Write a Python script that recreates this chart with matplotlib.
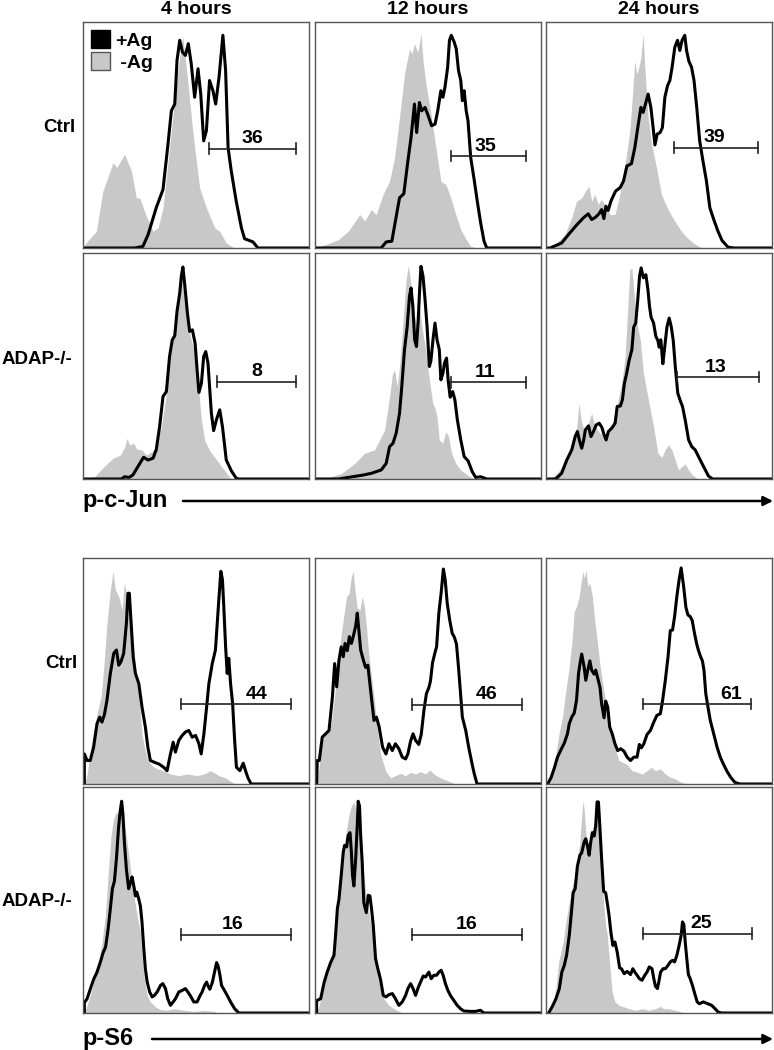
import matplotlib
matplotlib.use("Agg")
import matplotlib.pyplot as plt
from matplotlib.patches import Patch

plt.rcParams['font.family'] = ['Liberation Sans', 'DejaVu Sans']
plt.rcParams['font.weight'] = 'bold'

# x, y read off the picture as % of panel width / height
# gray = -Ag (filled), black = +Ag (line)

# ---- p-c-Jun, Ctrl ----
jun_ctrl_4h_neg = [(0,0),(0.7,1.5),(5.9,7.4),(8.8,25.2),(13.3,37.8),(15.0,35.6),(18.4,41.5),(21.4,34.1),
    (23.6,22.2),(25.1,22.2),(28.0,14.1),(31.0,7.4),(33.2,8.9),(35.4,17.8),(38.3,44.4),(41.3,72.6),
    (44.0,94.1),(45.7,80.0),(48.7,50.4),(51.6,26.7),(54.6,17.8),(58.3,8.9),(60.5,7.4),(63.4,2.2),(66.4,0.3),(68,0)]
jun_ctrl_4h_pos = [(0,0),(22.9,0),(26.5,0.7),(28.8,5.9),(32.4,17.8),(35.4,25.9),(37.6,45.9),(39.1,60.7),
    (40.6,63.7),(41.6,83.0),(42.8,91.9),(44.0,86.7),(45.3,85.2),(46.6,90.4),(47.9,81.5),(49.4,66.7),
    (50.9,79.3),(52.1,68.1),(53.4,47.4),(54.6,51.9),(56.0,74.1),(57.5,69.6),(58.7,63.7),(60.2,75.6),
    (61.9,94.1),(63.1,78.5),(64.2,44.4),(65.6,34.1),(67.8,20.7),(70.1,8.9),(71.5,4.1),(75.2,2.7),(77.4,0),(100,0)]
jun_ctrl_12h_neg = [(0,0),(6.6,2.2),(10.3,3.7),(14.7,7.4),(19.8,14.8),(22.0,11.9),(24.9,17.0),(27.1,14.8),
    (30.1,23.7),(33.0,29.6),(35.2,40.0),(38.1,63.7),(39.6,77.0),(41.8,88.1),(42.8,85.9),(44.0,90.4),
    (45.5,86.7),(46.9,94.8),(47.8,83.0),(49.1,72.6),(51.3,59.3),(53.5,44.4),(55.7,29.6),(57.9,28.1),
    (60.1,22.2),(62.3,14.8),(64.5,8.1),(66.7,4.1),(68.9,0.7),(71.8,0)]
jun_ctrl_12h_pos = [(0,0),(29.3,0),(31.5,2.7),(34.0,3.0),(37.4,22.2),(39.3,24.0),(41.1,38.5),(42.5,48.9),
    (44.0,63.7),(45.0,51.1),(46.2,64.4),(47.2,60.7),(48.7,62.2),(50.1,58.5),(51.6,54.1),(53.1,54.8),
    (54.3,60.7),(55.7,69.6),(56.6,66.7),(57.5,71.1),(58.7,80.0),(59.5,91.9),(60.3,94.1),(61.6,91.1),
    (62.5,88.1),(63.5,78.5),(64.5,74.1),(65.2,65.2),(66.0,69.6),(66.9,60.7),(67.7,56.3),(68.9,40.0),
    (70.4,30.4),(71.8,20.7),(73.3,11.1),(74.8,3.0),(76.0,0),(100,0)]
jun_ctrl_24h_neg = [(0,0),(4.0,1.5),(8.4,5.9),(11.3,13.3),(13.5,20.7),(15.8,22.2),(17.5,25.2),(19.0,27.4),
    (20.2,20.7),(21.6,23.7),(23.1,19.3),(24.6,21.5),(26.4,18.5),(28.3,14.8),(30.5,14.8),(32.0,20.7),
    (33.4,27.4),(35.2,38.5),(37.1,51.9),(38.6,72.6),(39.3,83.0),(40.1,77.0),(41.1,80.0),(42.0,84.4),
    (43.0,94.8),(43.7,80.0),(45.2,57.8),(46.7,45.9),(48.9,35.6),(51.1,23.7),(54.0,17.0),(57.0,11.9),
    (59.9,7.4),(62.9,4.1),(65.8,1.8),(68.8,0)]
jun_ctrl_24h_pos = [(0,0),(1.8,0),(6.9,2.2),(9.9,5.9),(13.5,10.1),(16.5,13.3),(18.7,15.1),(20.2,12.6),
    (21.9,13.6),(23.4,15.1),(24.6,17.0),(25.6,13.0),(26.5,18.5),(27.5,16.6),(28.7,20.7),(30.8,25.2),
    (32.8,26.7),(34.3,29.6),(35.8,36.3),(37.8,37.3),(39.3,44.4),(40.8,54.5),(42.0,62.2),(43.0,60.0),
    (44.2,64.4),(45.2,68.1),(46.4,62.2),(47.4,53.3),(48.2,45.6),(49.2,50.4),(50.5,51.1),(51.5,53.3),
    (52.6,66.7),(53.8,71.9),(54.8,74.1),(55.8,80.0),(57.0,88.9),(58.2,91.9),(59.2,87.4),(60.2,91.9),
    (61.4,94.1),(62.2,87.4),(63.2,82.7),(64.4,80.0),(65.5,74.1),(66.7,62.2),(68.0,47.4),(69.5,38.2),
    (71.0,29.6),(72.5,17.8),(74.4,12.1),(76.1,7.4),(77.9,3.3),(80.6,0.3),(83.5,0),(100,0)]

# ---- p-c-Jun, ADAP-/- ----
jun_adap_4h_neg = [(0,0),(5.2,1.0),(8.8,5.0),(13.3,9.2),(16.5,10.6),(18.4,14.0),(19.5,18.0),(20.6,15.1),
    (22.4,15.8),(23.9,13.1),(26.0,12.9),(28.0,10.6),(30.4,12.1),(32.4,14.6),(34.7,23.2),(36.9,38.0),
    (39.1,57.2),(41.3,73.4),(42.8,86.7),(44.0,93.4),(45.7,79.3),(47.2,64.6),(49.0,57.2),(50.9,42.4),
    (52.4,26.1),(53.8,17.3),(56.0,12.6),(58.3,9.6),(60.5,6.6),(62.7,3.7),(64.9,0.7),(66.4,0)]
jun_adap_4h_pos = [(0,0),(17.0,0),(18.4,1.0),(20.4,0.7),(22.1,1.8),(24.3,5.5),(26.8,9.6),(28.8,8.4),
    (31.0,9.2),(32.4,12.9),(33.9,23.2),(35.4,36.5),(36.9,38.7),(38.3,54.2),(39.5,61.6),(40.6,63.4),
    (41.6,74.2),(42.8,82.3),(43.5,89.7),(44.2,93.8),(45.1,85.2),(46.2,73.4),(47.2,65.3),(48.4,66.0),
    (49.6,60.1),(50.6,46.8),(51.3,38.3),(52.4,42.4),(53.4,54.2),(54.3,56.4),(55.3,51.3),(56.8,29.1),
    (57.8,21.4),(59.0,26.1),(60.5,30.6),(61.7,23.2),(63.4,8.4),(65.6,3.7),(67.8,0.3),(69.0,0),(100,0)]
jun_adap_12h_neg = [(0,0),(7.3,1.0),(11.7,2.5),(17.6,6.9),(22.0,11.4),(26.4,12.9),(28.6,17.3),(30.8,21.7),
    (33.0,36.5),(34.2,46.1),(35.2,48.3),(36.4,40.9),(37.4,49.8),(38.9,69.0),(40.3,88.2),(41.3,94.4),
    (42.2,88.2),(43.3,76.4),(44.7,69.0),(46.2,76.4),(47.7,64.6),(48.8,58.6),(50.6,43.9),(52.1,33.5),
    (53.1,31.3),(54.0,27.6),(55.0,17.3),(56.5,15.8),(57.9,21.0),(59.1,18.8),(60.4,11.4),(62.3,6.9),
    (64.5,4.0),(67.4,1.8),(70.4,0)]
jun_adap_12h_pos = [(0,0),(10.3,0),(14.7,0.7),(20.5,1.6),(24.9,2.5),(29.3,4.0),(31.5,6.9),(33.0,14.3),
    (34.5,15.8),(35.9,20.2),(37.4,29.1),(38.4,40.9),(39.6,57.2),(40.8,67.5),(41.8,80.8),(42.5,84.5),
    (43.3,76.4),(44.1,61.6),(44.9,58.6),(45.6,69.0),(46.3,83.8),(46.9,94.1),(47.8,89.7),(48.7,79.3),
    (49.6,67.2),(50.6,49.8),(51.3,52.4),(52.2,61.6),(53.1,69.0),(54.0,61.6),(55.0,57.2),(55.7,43.9),
    (56.6,46.8),(57.3,51.3),(58.2,53.5),(58.9,43.9),(59.8,36.2),(60.9,38.7),(61.9,35.0),(63.0,26.1),
    (64.5,17.3),(66.0,9.9),(67.7,8.1),(69.6,3.2),(71.1,0.7),(73.3,1.0),(76.0,0),(100,0)]
jun_adap_24h_neg = [(1.0,0),(3.2,1.0),(6.2,4.0),(9.2,9.9),(12.1,17.3),(13.6,23.2),(14.6,33.5),(15.5,26.1),
    (16.8,21.7),(18.8,24.7),(20.2,29.1),(21.7,23.2),(23.9,20.2),(26.1,18.8),(29.1,23.2),(31.3,32.1),
    (33.5,42.4),(35.0,54.2),(36.2,76.4),(37.1,92.6),(38.0,93.4),(38.8,83.8),(40.2,69.0),(41.7,61.6),
    (43.1,46.8),(45.3,35.0),(47.6,23.2),(49.5,11.4),(51.3,9.6),(52.7,12.9),(54.2,15.1),(55.7,12.9),
    (57.2,8.4),(58.6,4.0),(60.1,5.5),(61.6,6.6),(63.1,4.0),(64.8,1.8),(67.2,0)]
jun_adap_24h_pos = [(0,0),(4.3,0),(6.9,2.5),(9.2,8.4),(11.4,12.9),(12.9,18.8),(13.9,21.0),(14.8,17.0),
    (15.8,13.6),(16.7,17.3),(17.4,21.7),(18.8,23.5),(19.9,18.8),(21.0,21.0),(22.2,23.9),(23.5,24.7),
    (24.7,22.9),(25.6,19.9),(26.6,17.3),(27.6,21.0),(29.1,22.5),(30.6,24.7),(31.5,32.1),(32.9,32.3),
    (33.8,35.0),(34.7,42.4),(35.7,46.8),(36.8,52.6),(38.0,57.2),(38.8,67.2),(39.7,69.0),(40.6,79.3),
    (41.4,89.7),(42.1,93.4),(43.1,89.0),(44.2,90.4),(45.1,83.8),(45.8,76.4),(46.5,71.6),(47.6,69.0),
    (48.6,63.1),(49.5,61.3),(50.1,58.3),(50.8,61.6),(51.7,51.0),(52.4,57.2),(53.5,67.2),(54.5,71.2),
    (55.4,67.5),(56.3,61.3),(57.2,49.8),(58.3,38.0),(59.4,34.7),(60.4,32.1),(61.6,26.1),(63.1,17.3),
    (64.5,14.3),(66.0,12.9),(67.5,9.9),(69.0,6.9),(70.5,4.0),(71.9,1.3),(73.7,0),(100,0)]

# ---- p-S6, Ctrl ----
s6_ctrl_4h_neg = [(0.6,0),(1.8,4.4),(4.0,19.3),(6.2,31.1),(8.0,38.5),(9.2,51.9),(10.6,71.1),(12.1,85.9),
    (13.3,94.1),(14.3,85.9),(15.8,83.0),(17.3,77.0),(18.3,88.9),(19.5,83.0),(20.7,78.5),(21.7,69.6),
    (23.2,51.9),(24.7,38.5),(26.1,22.2),(27.2,16.3),(28.7,10.4),(30.6,8.1),(32.8,6.7),(35.7,5.9),
    (38.7,4.4),(42.4,3.7),(46.1,4.4),(50.5,3.7),(53.5,4.4),(56.4,5.9),(58.2,4.9),(60.1,3.7),(63.1,2.7),
    (65.3,1.2),(67.1,0)]
s6_ctrl_4h_pos = [(0.6,0),(0.6,13.3),(1.8,10.4),(3.2,10.4),(4.7,16.3),(6.2,26.7),(7.4,29.6),(8.4,27.4),
    (9.5,30.8),(10.6,37.0),(12.1,48.9),(13.6,57.8),(14.8,59.3),(15.8,52.6),(16.8,54.1),(18.0,57.8),
    (19.2,71.1),(19.9,84.4),(20.5,84.4),(21.3,71.1),(22.2,56.3),(23.2,48.9),(24.7,44.4),(26.1,34.1),
    (27.6,25.2),(28.7,16.3),(29.8,10.4),(31.6,9.6),(33.5,8.9),(35.7,7.4),(37.2,5.9),(38.7,13.3),
    (39.9,18.5),(40.9,14.1),(42.4,19.3),(43.9,21.5),(45.3,23.0),(46.8,23.7),(48.3,20.7),(49.8,21.5),
    (51.3,17.8),(52.3,13.3),(53.5,22.2),(54.7,34.1),(55.7,44.4),(57.2,53.3),(58.6,59.3),(59.4,71.1),
    (60.1,81.5),(61.0,94.1),(61.7,90.4),(62.3,78.5),(63.1,60.7),(63.8,48.9),(64.5,55.6),(65.3,44.4),
    (66.2,35.6),(67.1,19.3),(67.9,7.4),(69.4,5.9),(70.9,9.2),(71.9,5.9),(73.0,2.7),(74.4,0),(100,0)]
s6_ctrl_12h_neg = [(0.7,0),(1.8,7.4),(3.2,19.3),(5.4,23.7),(7.2,26.7),(8.4,37.0),(9.9,48.9),(11.3,63.7),
    (12.8,74.8),(14.0,83.0),(15.0,84.1),(16.1,91.9),(16.9,94.1),(17.7,85.9),(18.7,77.8),(19.9,77.0),
    (20.9,83.0),(21.8,78.5),(22.7,70.4),(23.6,59.3),(24.6,50.4),(26.1,38.5),(27.5,25.2),(29.0,13.3),
    (31.2,5.9),(33.4,2.7),(35.6,3.7),(37.8,4.7),(40.1,3.7),(42.3,5.2),(44.5,4.4),(46.7,5.5),(48.9,4.4),
    (50.8,6.2),(52.6,4.4),(55.5,2.7),(58.5,1.5),(61.4,0.3),(62.9,0)]
s6_ctrl_12h_pos = [(0.7,0),(1.0,10.4),(1.9,10.4),(3.2,20.7),(4.7,22.2),(6.2,23.7),(7.7,38.5),(8.7,53.3),
    (9.6,43.0),(10.6,54.8),(11.6,60.7),(12.5,56.3),(13.3,62.2),(14.3,59.0),(15.2,65.2),(16.1,62.2),
    (16.9,65.2),(18.0,69.9),(18.7,75.6),(19.4,68.1),(20.2,59.3),(21.4,54.8),(22.4,51.6),(23.4,52.6),
    (24.6,41.5),(26.1,28.1),(27.2,29.6),(28.4,25.2),(29.9,16.3),(31.4,13.3),(32.7,17.8),(34.2,14.8),
    (35.6,17.8),(37.1,15.6),(38.6,11.9),(40.1,11.1),(41.1,13.3),(42.3,19.0),(43.4,22.2),(44.5,19.3),
    (45.9,17.5),(47.0,21.9),(48.2,32.6),(49.3,40.0),(50.4,42.7),(51.1,45.6),(52.0,53.6),(53.0,57.8),
    (53.8,60.7),(54.8,75.6),(55.8,84.4),(56.8,95.1),(57.6,90.4),(58.5,80.0),(59.6,72.6),(60.7,66.7),
    (61.7,64.9),(62.6,61.9),(63.6,50.4),(64.4,40.0),(65.2,29.6),(66.7,23.7),(68.0,16.3),(69.5,8.9),
    (70.5,4.4),(71.7,0),(100,0)]
s6_ctrl_24h_neg = [(0.3,0),(2.2,4.4),(4.4,13.3),(5.9,23.0),(7.3,29.6),(8.8,41.5),(10.3,51.9),(11.4,62.2),
    (12.5,76.3),(13.5,78.5),(14.7,83.0),(15.5,88.9),(16.3,94.1),(17.0,91.1),(17.7,94.8),(18.5,87.4),
    (19.4,88.9),(20.5,83.0),(21.7,71.1),(22.7,63.0),(23.8,53.3),(24.9,45.9),(26.4,35.6),(27.9,26.7),
    (29.3,19.3),(30.8,14.8),(32.3,10.4),(34.0,9.6),(35.9,8.6),(38.1,5.9),(40.3,5.2),(42.5,4.4),
    (44.7,5.9),(46.6,7.4),(48.4,5.9),(50.6,6.7),(52.8,4.4),(55.0,3.0),(57.2,2.2),(60.1,0.7),(63.0,0)]
s6_ctrl_24h_pos = [(0.7,0),(2.2,2.7),(3.7,7.1),(5.1,11.9),(6.6,15.1),(8.1,18.1),(9.5,22.2),(10.3,26.7),
    (11.4,29.6),(12.5,31.4),(13.5,37.0),(14.4,48.9),(15.1,53.6),(15.8,57.5),(16.9,51.6),(17.6,45.9),
    (18.5,50.4),(19.4,54.5),(20.2,50.4),(21.3,48.6),(22.0,50.4),(23.2,45.6),(23.9,42.7),(24.6,35.6),
    (25.7,29.3),(26.4,36.7),(27.3,34.1),(28.2,25.2),(29.3,22.2),(30.5,17.8),(31.7,14.8),(33.1,15.6),
    (34.5,14.5),(35.9,11.9),(37.4,10.4),(38.9,11.9),(40.3,11.9),(41.3,17.5),(42.2,16.0),(43.3,17.8),
    (44.7,21.9),(46.2,23.7),(47.7,27.4),(49.1,30.4),(50.6,31.1),(51.6,37.0),(52.8,45.9),(54.0,56.3),
    (55.0,67.9),(56.0,68.1),(56.9,74.1),(57.9,83.0),(58.9,90.4),(59.8,95.6),(60.9,87.4),(61.9,78.2),
    (62.8,74.8),(63.8,74.1),(64.7,72.3),(65.7,66.7),(66.7,61.9),(67.4,59.3),(68.3,56.6),(69.2,54.5),
    (69.9,50.4),(70.7,40.0),(71.6,34.4),(72.7,28.1),(74.2,22.2),(75.7,16.3),(77.1,11.9),(78.6,8.6),
    (80.1,5.6),(81.7,3.0),(83.6,0.7),(85.8,0),(100,0)]

# ---- p-S6, ADAP-/- ----
s6_adap_4h_neg = [(0.6,0),(1.8,3.4),(3.2,7.8),(5.5,16.7),(6.9,22.6),(8.4,31.4),(9.9,43.2),(11.1,60.9),
    (12.4,78.6),(13.6,86.0),(14.8,88.9),(15.9,87.5),(17.0,93.4),(18.0,86.0),(19.5,75.7),(21.0,63.9),
    (22.5,52.1),(23.9,43.2),(25.4,35.8),(26.4,22.6),(27.3,13.7),(28.4,7.8),(29.8,4.9),(32.1,2.7),
    (34.3,1.5),(37.2,1.2),(40.2,1.9),(44.6,1.2),(49.0,0.7),(53.5,1.2),(57.9,0.7),(60.1,0)]
s6_adap_4h_pos = [(0.6,0),(0.6,4.6),(1.8,6.3),(3.2,10.5),(4.7,14.9),(6.2,18.1),(7.7,22.6),(8.9,26.7),
    (10.0,29.2),(11.1,37.0),(12.1,46.2),(13.0,55.0),(13.9,58.3),(14.8,68.3),(15.7,81.6),(16.4,88.9),
    (17.1,93.7),(17.7,87.5),(18.3,75.7),(19.2,63.6),(20.2,55.0),(21.0,57.7),(21.7,60.2),(22.5,56.2),
    (23.2,51.8),(23.8,53.5),(24.7,50.3),(25.4,47.3),(26.1,40.3),(26.9,28.5),(27.6,19.6),(28.4,13.7),
    (29.5,9.3),(30.6,7.1),(31.6,7.8),(32.8,9.3),(34.3,12.2),(35.3,13.0),(36.5,10.8),(37.5,6.3),
    (38.7,3.4),(39.9,4.9),(40.9,6.3),(42.4,9.3),(43.9,10.0),(45.3,10.8),(46.4,9.3),(47.6,7.5),
    (49.0,4.9),(50.5,4.9),(51.7,7.5),(52.7,9.3),(53.8,12.2),(54.7,13.7),(55.2,12.2),(56.1,10.5),
    (57.2,13.4),(58.2,18.1),(59.1,22.3),(59.8,20.8),(60.6,16.7),(61.3,12.2),(62.3,10.5),(63.8,7.8),
    (65.3,4.9),(67.1,1.9),(69.0,0),(100,0)]
s6_adap_12h_neg = [(0.7,0),(1.8,3.4),(3.2,9.3),(4.7,16.7),(6.9,24.0),(8.7,31.4),(9.9,43.2),(11.0,56.5),
    (12.1,66.8),(13.1,75.7),(14.0,81.6),(15.0,87.5),(16.1,91.6),(17.2,93.4),(18.0,90.4),(19.0,83.0),
    (19.9,75.7),(20.9,68.3),(21.9,58.0),(23.1,49.1),(24.3,41.7),(25.3,35.8),(26.4,28.5),(27.5,18.1),
    (29.0,10.8),(30.5,6.3),(32.7,3.4),(34.9,1.9),(37.1,0.7),(39.3,0)]
s6_adap_12h_pos = [(0.7,0),(0.7,5.5),(2.5,6.3),(4.0,13.4),(5.4,18.1),(6.9,22.3),(8.4,25.5),(9.1,34.4),
    (9.9,46.2),(10.6,50.3),(11.6,60.9),(12.5,71.2),(13.1,74.2),(14.0,73.5),(14.7,78.6),(15.5,79.8),
    (16.1,71.2),(16.6,60.9),(17.2,56.2),(18.0,68.3),(18.7,83.0),(19.1,93.7),(19.7,91.6),(20.2,78.6),
    (20.9,66.5),(21.6,48.8),(22.7,44.4),(23.6,52.1),(24.3,51.8),(25.0,46.2),(25.8,38.5),(26.8,24.0),
    (27.8,19.6),(29.0,14.9),(30.2,7.8),(31.4,7.1),(32.7,8.1),(34.2,8.6),(35.6,6.3),(37.1,3.4),
    (38.6,4.9),(40.1,7.8),(41.1,10.8),(42.3,13.0),(43.4,10.8),(44.5,7.8),(45.5,10.8),(46.7,13.7),
    (47.9,16.4),(48.9,15.9),(50.4,18.1),(51.4,15.2),(52.6,16.7),(53.8,16.7),(54.8,18.1),(55.8,18.9),
    (56.7,16.7),(57.7,13.0),(58.8,10.0),(59.9,7.8),(61.4,5.6),(62.9,3.4),(64.4,1.9),(65.8,0.9),
    (68.8,0.7),(71.0,0.7),(73.2,1.2),(74.7,0),(100,0)]
s6_adap_24h_neg = [(1.2,0),(2.9,3.4),(4.4,10.8),(5.6,22.6),(6.6,27.0),(7.6,31.4),(8.8,40.3),(10.3,49.1),
    (11.7,56.5),(12.9,60.9),(13.9,68.3),(15.0,75.7),(15.8,87.5),(16.4,94.1),(17.0,88.9),(17.9,75.7),
    (18.8,70.9),(19.5,75.7),(20.2,78.3),(21.3,83.0),(22.0,88.9),(22.7,86.7),(23.5,78.6),(24.2,68.3),
    (24.9,56.5),(25.7,46.2),(26.4,38.8),(27.1,34.4),(27.9,25.5),(28.6,16.7),(29.3,9.3),(30.5,4.9),
    (32.3,3.4),(34.5,2.7),(36.7,1.9),(39.6,1.2),(42.5,1.9),(45.5,1.2),(48.4,1.9),(50.6,2.9),(52.1,1.9),
    (54.3,1.9),(57.2,1.2),(60.1,0.4),(63.0,0)]
s6_adap_24h_pos = [(1.2,0),(2.9,3.1),(4.4,6.3),(5.9,10.8),(7.0,18.1),(8.1,21.1),(9.1,25.5),(10.3,34.4),
    (11.4,46.2),(12.0,53.2),(12.9,55.0),(13.9,65.0),(15.0,69.8),(15.8,70.9),(16.9,75.7),(17.6,77.1),
    (18.3,74.2),(19.1,69.8),(19.8,75.7),(20.5,79.8),(21.3,78.3),(22.0,83.0),(22.6,93.4),(23.2,93.4),
    (23.8,83.0),(24.6,68.3),(25.5,53.8),(26.4,53.2),(27.1,48.8),(27.9,43.2),(28.7,35.8),(29.6,29.9),
    (30.5,31.4),(31.5,27.0),(32.6,19.9),(33.4,19.6),(34.6,17.4),(35.9,18.4),(37.4,17.0),(38.4,19.6),
    (39.3,18.1),(40.3,16.7),(41.3,15.2),(42.5,14.5),(43.7,16.7),(44.7,18.1),(45.7,20.4),(46.9,19.6),
    (47.7,15.2),(48.4,11.9),(49.3,10.8),(49.9,13.7),(50.7,18.1),(51.8,19.6),(52.8,19.6),(54.0,21.1),
    (55.0,22.6),(56.0,23.3),(56.9,22.6),(57.9,25.5),(58.9,29.9),(59.8,34.4),(60.4,40.3),(61.0,39.1),
    (61.6,31.4),(62.3,24.0),(63.0,17.0),(63.8,15.2),(64.8,12.2),(65.7,9.0),(66.9,4.9),(67.9,4.1),
    (69.6,4.9),(71.6,4.1),(73.3,3.4),(74.8,1.9),(76.2,0.4),(77.7,0),(100,0)]

# gates: start, end, height, label, label x (row by row, 4h / 12h / 24h)
gate_start = [55.8, 60.1, 56.7, 59.3, 60.1, 57.9, 43.4, 43.0, 42.8, 43.4, 43.0, 42.8]
gate_end = [94.1, 93.5, 93.8, 94.1, 93.5, 94.1, 91.9, 91.6, 90.9, 91.9, 91.6, 91.2]
gate_y = [44.0, 40.7, 44.4, 43.1, 42.7, 45.1, 35.3, 35.1, 35.3, 34.7, 34.7, 35.1]
gate_labels = ['36', '35', '39', '8', '11', '13', '44', '46', '61', '16', '16', '25']
gate_label_x = [75.0, 75.5, 74.7, 76.7, 75.2, 74.9, 76.8, 76.1, 81.7, 66.0, 67.3, 68.5]

times = ['4 hours', '12 hours', '24 hours']
rows = ['Ctrl', 'ADAP-/-', 'Ctrl', 'ADAP-/-']
markers = ['p-c-Jun', 'p-S6']

curves = [
    [(jun_ctrl_4h_neg, jun_ctrl_4h_pos), (jun_ctrl_12h_neg, jun_ctrl_12h_pos), (jun_ctrl_24h_neg, jun_ctrl_24h_pos)],
    [(jun_adap_4h_neg, jun_adap_4h_pos), (jun_adap_12h_neg, jun_adap_12h_pos), (jun_adap_24h_neg, jun_adap_24h_pos)],
    [(s6_ctrl_4h_neg, s6_ctrl_4h_pos), (s6_ctrl_12h_neg, s6_ctrl_12h_pos), (s6_ctrl_24h_neg, s6_ctrl_24h_pos)],
    [(s6_adap_4h_neg, s6_adap_4h_pos), (s6_adap_12h_neg, s6_adap_12h_pos), (s6_adap_24h_neg, s6_adap_24h_pos)],
]

W, H = 774, 1050
fig = plt.figure(figsize=(W / 100, H / 100), dpi=100)
gray = '#c8c8c8'

col_left = [83, 315, 546]   # px
row_top = [22, 253, 558, 787]
pw, ph = 226, 226

def fx(px):
    return px / W

def fy(py):
    return 1 - py / H

for r in range(4):
    for c in range(3):
        ax = fig.add_axes([fx(col_left[c]), fy(row_top[r] + ph), pw / W, ph / H])
        neg, pos = curves[r][c]
        nx, ny = zip(*neg)
        ax.fill_between(nx, ny, 0, color=gray, lw=0)
        bx, by = zip(*pos)
        ax.plot(bx, by, color='black', lw=2.2, solid_joinstyle='round')
        k = r * 3 + c
        gy = gate_y[k]
        ax.plot([gate_start[k], gate_end[k]], [gy, gy], color='#222222', lw=1.2)
        for gx in (gate_start[k], gate_end[k]):
            ax.plot([gx, gx], [gy - 2.3, gy + 2.3], color='#222222', lw=1.2)
        ax.text(gate_label_x[k], gy + 0.6, gate_labels[k], ha='center', va='bottom',
                fontsize=14, fontweight='bold')
        ax.set_xlim(0, 100)
        ax.set_ylim(0, 100)
        ax.set_xticks([])
        ax.set_yticks([])
        for s in ax.spines.values():
            s.set_color('#555555')
            s.set_linewidth(1.0)
        if r == 0 and c == 0:
            ax.legend(handles=[Patch(facecolor='black', edgecolor='black'),
                               Patch(facecolor=gray, edgecolor='#555555')],
                      labels=['+Ag', ' -Ag'], loc='upper left', frameon=False,
                      handlelength=1.0, handleheight=1.1, borderpad=0.2, borderaxespad=0.2,
                      labelspacing=0.1, handletextpad=0.25,
                      prop={'weight': 'bold', 'size': 14})

# column headers
for c, t in enumerate(times):
    fig.text(fx(col_left[c] + pw / 2), fy(9), t, ha='center', va='center',
             fontsize=14, fontweight='bold')

# row labels
row_label_y = [127, 360, 663, 902]
row_label_right = [76, 72, 77, 72]
for r, lab in enumerate(rows):
    fig.text(fx(row_label_right[r]), fy(row_label_y[r]), lab, ha='right', va='center',
             fontsize=13.5, fontweight='bold')

# marker labels with arrows
marker_y = [500, 1038]
arrow_start = [183, 152]
for m, lab in enumerate(markers):
    fig.text(fx(82), fy(marker_y[m]), lab, ha='left', va='center',
             fontsize=17, fontweight='bold')
    fig.add_artist(plt.Annotation('', xy=(fx(773), fy(marker_y[m] + 1)),
                                  xytext=(fx(arrow_start[m]), fy(marker_y[m] + 1)),
                                  xycoords='figure fraction', textcoords='figure fraction',
                                  arrowprops=dict(arrowstyle='-|>', color='black', lw=1.8,
                                                  mutation_scale=14, shrinkA=0, shrinkB=0)))

fig.savefig('out.png', dpi=100)
